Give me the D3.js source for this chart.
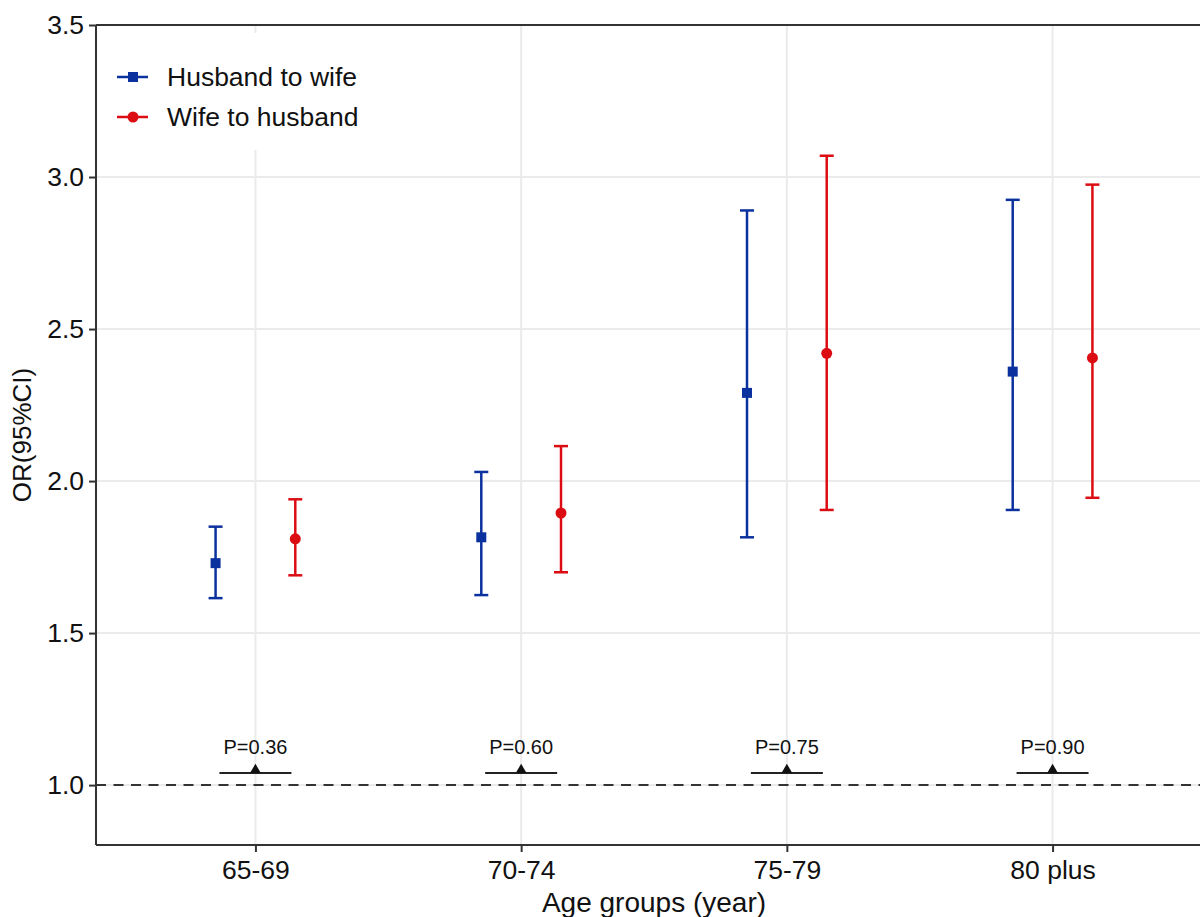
<!DOCTYPE html>
<html>
<head>
<meta charset="utf-8">
<script src="https://cdn.jsdelivr.net/npm/d3@7"></script>
<style>
  body { margin: 0; background: #fff; }
  text { font-family: Arial, "Liberation Sans", sans-serif; fill: #111; }
</style>
</head>
<body>
<div id="chart"></div>
<script>
// data
let groups = ["65-69", "70-74", "75-79", "80 plus"];
let seriesNames = ["Husband to wife", "Wife to husband"];
let husbandOR = [1.73, 1.815, 2.29, 2.36];
let husbandLow = [1.615, 1.625, 1.815, 1.905];
let husbandHigh = [1.85, 2.03, 2.89, 2.925];
let wifeOR = [1.81, 1.895, 2.42, 2.405];
let wifeLow = [1.69, 1.70, 1.905, 1.945];
let wifeHigh = [1.94, 2.115, 3.07, 2.975];
let pLabels = ["P=0.36", "P=0.60", "P=0.75", "P=0.90"];
let yTicks = [1.0, 1.5, 2.0, 2.5, 3.0, 3.5];

let W = 1200, H = 917;
let margin = {top: 25, right: -12, bottom: 72, left: 96};
let width = W - margin.left - margin.right;
let height = H - margin.top - margin.bottom;

let svg = d3.select("#chart").append("svg")
    .attr("width", W)
    .attr("height", H);

let g = svg.append("g")
    .attr("transform", "translate(" + margin.left + "," + margin.top + ")");

let x = d3.scalePoint()
    .domain(groups)
    .range([0, width])
    .padding(0.6);

let y = d3.scaleLinear()
    .domain([0.803, 3.5])
    .range([height, 0]);

let dodge = x.step() * 0.15;

// grid
g.selectAll(".vgrid").data(groups).enter().append("line")
    .attr("x1", d => x(d)).attr("x2", d => x(d))
    .attr("y1", 0).attr("y2", height)
    .attr("stroke", "#ebebeb").attr("stroke-width", 2);
g.selectAll(".hgrid").data(yTicks).enter().append("line")
    .attr("x1", 0).attr("x2", width)
    .attr("y1", d => y(d)).attr("y2", d => y(d))
    .attr("stroke", "#ebebeb").attr("stroke-width", 2);

// reference line at OR = 1
g.append("line")
    .attr("x1", 0).attr("x2", width)
    .attr("y1", y(1)).attr("y2", y(1))
    .attr("stroke", "#333").attr("stroke-width", 2)
    .attr("stroke-dasharray", "10,7.5");

// legend box (covers grid)
g.append("rect")
    .attr("x", 4).attr("y", 8)
    .attr("width", 300).attr("height", 117)
    .attr("fill", "#fff");

let series = [
    {name: seriesNames[0], est: husbandOR, lo: husbandLow, hi: husbandHigh, color: "#0b319e", shape: "square", off: -dodge},
    {name: seriesNames[1], est: wifeOR, lo: wifeLow, hi: wifeHigh, color: "#dc0d12", shape: "circle", off: dodge}
];

series.forEach(function (s) {
    let sg = g.append("g");
    let rows = groups.map((k, i) => ({k: k, est: s.est[i], lo: s.lo[i], hi: s.hi[i]}));
    sg.selectAll(".bar").data(rows).enter().append("line")
        .attr("x1", d => x(d.k) + s.off).attr("x2", d => x(d.k) + s.off)
        .attr("y1", d => y(d.lo)).attr("y2", d => y(d.hi))
        .attr("stroke", s.color).attr("stroke-width", 2.5);
    ["lo", "hi"].forEach(function (end) {
        sg.selectAll(".cap-" + end).data(rows).enter().append("line")
            .attr("x1", d => x(d.k) + s.off - 7).attr("x2", d => x(d.k) + s.off + 7)
            .attr("y1", d => y(d[end])).attr("y2", d => y(d[end]))
            .attr("stroke", s.color).attr("stroke-width", 2.5);
    });
    if (s.shape === "square") {
        sg.selectAll(".pt").data(rows).enter().append("rect")
            .attr("x", d => x(d.k) + s.off - 5).attr("y", d => y(d.est) - 5)
            .attr("width", 10).attr("height", 10)
            .attr("fill", s.color);
    } else {
        sg.selectAll(".pt").data(rows).enter().append("circle")
            .attr("cx", d => x(d.k) + s.off).attr("cy", d => y(d.est))
            .attr("r", 5.5)
            .attr("fill", s.color);
    }
});

// p-value annotations
let pg = g.selectAll(".pval").data(groups).enter().append("g");
pg.append("line")
    .attr("x1", d => x(d) - 36).attr("x2", d => x(d) + 36)
    .attr("y1", y(1.04)).attr("y2", y(1.04))
    .attr("stroke", "#222").attr("stroke-width", 2);
pg.append("path")
    .attr("d", d3.symbol().type(d3.symbolTriangle).size(50))
    .attr("transform", d => "translate(" + x(d) + "," + (y(1.04) - 3) + ")")
    .attr("fill", "#111");
pg.append("text")
    .attr("x", d => x(d)).attr("y", y(1.13) + 8)
    .attr("text-anchor", "middle")
    .style("font-size", "20px")
    .text((d, i) => pLabels[i]);

// axes
let yAxis = g.append("g")
    .call(d3.axisLeft(y).tickValues(yTicks).tickFormat(d3.format(".1f")).tickSize(7).tickPadding(5));
let xAxis = g.append("g")
    .attr("transform", "translate(0," + height + ")")
    .call(d3.axisBottom(x).tickSize(7).tickPadding(8));
[yAxis, xAxis].forEach(function (a) {
    a.select(".domain").attr("stroke", "#333").attr("stroke-width", 2);
    a.selectAll(".tick line").attr("stroke", "#333").attr("stroke-width", 2);
    a.selectAll(".tick text").style("font-size", "26.5px").style("font-family", "Arial, 'Liberation Sans', sans-serif").attr("fill", "#111");
});
yAxis.select(".domain").attr("d", "M0," + height + "V0");
xAxis.select(".domain").attr("d", "M0,0H" + width);

// top border
g.append("line")
    .attr("x1", 0).attr("x2", width)
    .attr("y1", 0).attr("y2", 0)
    .attr("stroke", "#333").attr("stroke-width", 2);

// legend
series.forEach(function (s, i) {
    let ly = 52 + i * 40;
    g.append("line")
        .attr("x1", 21).attr("x2", 52)
        .attr("y1", ly).attr("y2", ly)
        .attr("stroke", s.color).attr("stroke-width", 2.5);
    if (s.shape === "square") {
        g.append("rect").attr("x", 32).attr("y", ly - 5).attr("width", 10).attr("height", 10).attr("fill", s.color);
    } else {
        g.append("circle").attr("cx", 37).attr("cy", ly).attr("r", 5.5).attr("fill", s.color);
    }
    g.append("text")
        .attr("x", 71).attr("y", ly + 9)
        .style("font-size", "26.5px")
        .text(s.name);
});

// axis titles
svg.append("text")
    .attr("transform", "translate(31," + (margin.top + height / 2) + ") rotate(-90)")
    .attr("text-anchor", "middle")
    .style("font-size", "26px")
    .text("OR(95%CI)");
svg.append("text")
    .attr("x", margin.left + width / 2)
    .attr("y", 912)
    .attr("text-anchor", "middle")
    .style("font-size", "28px")
    .text("Age groups (year)");
</script>
</body>
</html>
